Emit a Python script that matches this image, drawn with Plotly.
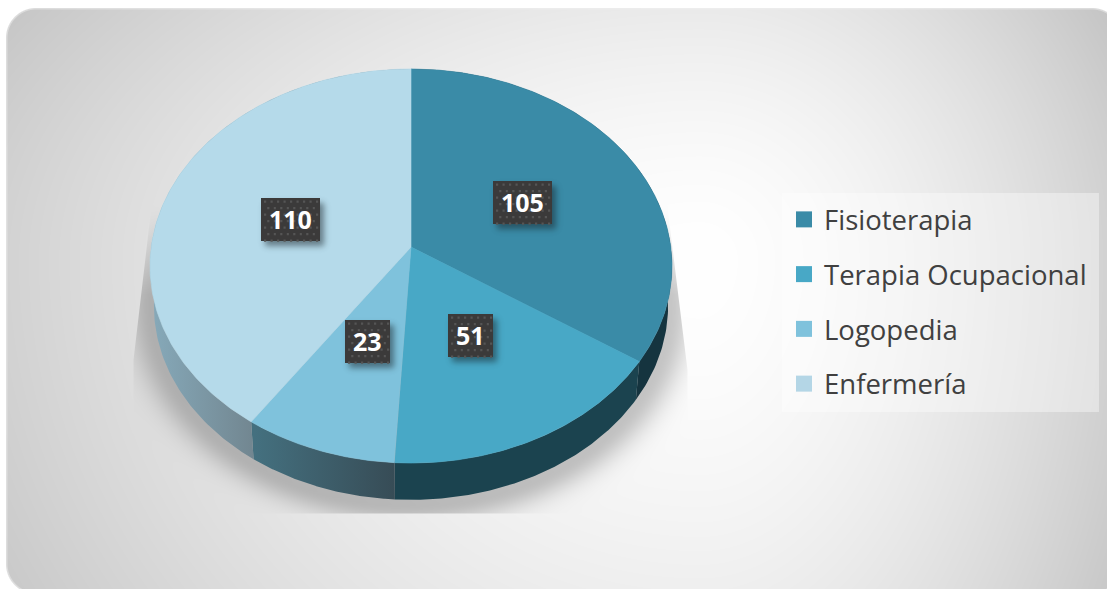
import base64, math, struct, zlib
import numpy as np
import plotly.graph_objects as go

# ---------- data ----------
CATEGORIES = ["Fisioterapia", "Terapia Ocupacional", "Logopedia", "Enfermería"]
VALUES = [105, 51, 23, 110]

# ---------- style ----------
W, H = 1107, 589
FACE_COLORS = ["#3a8ba7", "#48a8c6", "#7fc2dc", "#b5daea"]
LEGEND_COLORS = ["#3a8ba7", "#48a8c6", "#7fc2dc", "#b4d6e6"]
WALL_GRADS = [("#15343f", "#15343f"), ("#1b434f", "#1b434f"),
              ("#44707f", "#374c56"), ("#86a9b9", "#71858f")]
WALL_STOPS = [(400, 668), (395, 640), (255, 395), (152, 257)]
ANGLE_WARP = [0.946, 0.937, 1.09, 1.063]   # Excel's perspective distortion per slice
LABEL_BOXES = [(493, 181, 552, 224), (448, 314, 493, 357), (345, 320, 390, 363), (261, 198, 320, 241)]

# pie projection
CX, CY = 411.0, 247.0
K = 0.0965
A_, B_ = 259.8, 195.2
DEPTH, LOW_SCALE = 40.0, 0.985


def rim(theta, low=False):
    d = 1 + K * np.cos(theta)
    x = A_ * np.sin(theta) / d
    y = -B_ * np.cos(theta) / d
    if low:
        return CX + LOW_SCALE * x, CY + DEPTH + LOW_SCALE * y
    return CX + x, CY + y


def png_uri(rgba):
    h, w, _ = rgba.shape
    raw = b"".join(b"\x00" + rgba[i].tobytes() for i in range(h))

    def chunk(t, d):
        return struct.pack(">I", len(d)) + t + d + struct.pack(">I", zlib.crc32(t + d) & 0xffffffff)
    data = (b"\x89PNG\r\n\x1a\n" + chunk(b"IHDR", struct.pack(">IIBBBBB", w, h, 8, 6, 0, 0, 0))
            + chunk(b"IDAT", zlib.compress(raw, 9)) + chunk(b"IEND", b""))
    return "data:image/png;base64," + base64.b64encode(data).decode()


# ---------- backdrop: card gradient + soft pie shadow ----------
yy, xx = np.mgrid[0:H, 0:W].astype(float) + 0.5
dx = xx - 700.0
dy = yy - 260.0
Lx = np.where(dx < 0, 720.0, 420.0)
Ly = np.where(dy < 0, 420.0, 650.0)
t = np.sqrt((dx / Lx) ** 2 + (dy / Ly) ** 2)
grey = 255 - 47 * t ** 1.6

# soft shadow with hard clipped edges
r = np.sqrt(((xx - 411) / 258) ** 2 + ((yy - 305) / 200) ** 2)
d = (r - 1) * 225
sh = 0.22 * np.exp(-(np.clip(d, 0, None) / 22.0) ** 2)
left = np.clip(150 - (yy - 215) * 17 / 145, 133, None)
right = np.clip(672 + (yy - 240) * 16 / 130, None, 688)
clip = (np.clip(xx - left, 0, 1) * np.clip(right - xx, 0, 1)
        * np.clip(514 - yy, 0, 1) * np.clip((yy - 205) / 90, 0, 1))
grey = grey * (1 - sh * clip)

# rounded card mask
x0, y0, x1, y1, rad = 6.0, 8.0, 1122.0, 594.0, 30.0
qx = np.abs(xx - (x0 + x1) / 2) - ((x1 - x0) / 2 - rad)
qy = np.abs(yy - (y0 + y1) / 2) - ((y1 - y0) / 2 - rad)
sd = np.hypot(np.clip(qx, 0, None), np.clip(qy, 0, None)) + np.minimum(np.maximum(qx, qy), 0) - rad
alpha = np.clip(0.5 - sd, 0, 1)
edge = np.clip(1.5 - np.abs(sd + 0.5), 0, 1)
grey = grey * (1 - 0.5 * edge) + 240 * 0.5 * edge
final = grey * alpha + 255 * (1 - alpha)
bg = np.zeros((H, W, 4), dtype=np.uint8)
bg[..., :3] = np.clip(final, 0, 255)[..., None].astype(np.uint8)
bg[..., 3] = 255

# label-box drop shadows
verf = np.vectorize(math.erf)
xs = np.arange(W) + 0.5
ys = np.arange(H) + 0.5
sa = np.zeros((H, W))
S2 = 3.2 * math.sqrt(2)
for (a, b, c, e) in LABEL_BOXES:
    fx = 0.5 * (verf((xs - a - 4) / S2) - verf((xs - c - 4) / S2))
    fy = 0.5 * (verf((ys - b - 5) / S2) - verf((ys - e - 5) / S2))
    sa = np.maximum(sa, np.outer(fy, fx))
shadow = np.zeros((H, W, 4), dtype=np.uint8)
shadow[..., 0] = 20
shadow[..., 1] = 30
shadow[..., 2] = 35
shadow[..., 3] = (sa * 0.5 * 255).astype(np.uint8)

# ---------- figure ----------
fig = go.Figure()
total = sum(VALUES)
edges = [0.0]
for v, w in zip(VALUES, ANGLE_WARP):
    edges.append(edges[-1] + v / total * 2 * np.pi * w)
edges[-1] = 2 * np.pi

for i in range(len(VALUES)):  # side walls
    th = np.linspace(edges[i], edges[i + 1], 140)
    tx, ty = rim(th)
    lx, ly = rim(th[::-1], low=True)
    c0, c1 = WALL_GRADS[i]
    fig.add_trace(go.Scatter(
        x=np.r_[tx, lx, tx[0]], y=np.r_[ty, ly, ty[0]], mode="lines", fill="toself",
        line=dict(width=0), showlegend=False, hoverinfo="skip",
        fillgradient=dict(type="horizontal", colorscale=[[0, c0], [1, c1]],
                          start=WALL_STOPS[i][0], stop=WALL_STOPS[i][1])))

for i, name in enumerate(CATEGORIES):  # top faces
    th = np.linspace(edges[i], edges[i + 1], 220)
    tx, ty = rim(th)
    fig.add_trace(go.Scatter(
        x=np.r_[CX, tx, CX], y=np.r_[CY, ty, CY], mode="lines", fill="toself",
        fillcolor=FACE_COLORS[i], line=dict(width=0.6, color=FACE_COLORS[i]),
        showlegend=False, name=name, text=f"{name}: {VALUES[i]}", hoverinfo="text"))

for i, name in enumerate(CATEGORIES):  # legend entries
    fig.add_trace(go.Scatter(
        x=[None], y=[None], mode="markers", name=name, legendgroup=name, hoverinfo="skip",
        marker=dict(symbol="square", size=18, color=LEGEND_COLORS[i])))

shapes = [dict(type="rect", xref="x", yref="y", x0=782, x1=1099, y0=193, y1=412,
               fillcolor="rgba(255,255,255,0.38)", line=dict(width=0), layer="below")]
annotations = []
for (a, b, c, e), v in zip(LABEL_BOXES, VALUES):
    dots = ""
    for row, yd in enumerate(np.arange(b + 2.5, e - 1, 6.5)):
        for xd in np.arange(a + 3 + (row % 2) * 3.25, c - 1, 6.5):
            dots += (f"M{xd:.1f},{yd:.1f}L{xd + 2.2:.1f},{yd:.1f}"
                     f"L{xd + 2.2:.1f},{yd + 2.2:.1f}L{xd:.1f},{yd + 2.2:.1f}Z")
    shapes.append(dict(type="rect", xref="x", yref="y", x0=a, x1=c, y0=b, y1=e,
                       fillcolor="#3b3a3a", line=dict(width=0), layer="above"))
    shapes.append(dict(type="path", xref="x", yref="y", path=dots,
                       fillcolor="#555555", line=dict(width=0), layer="above"))
    annotations.append(dict(x=(a + c) / 2, y=(b + e) / 2 - 0.5, xref="x", yref="y", text=f"<b>{v}</b>",
                            showarrow=False, font=dict(family="Open Sans", size=25, color="white")))

fig.update_layout(
    width=W, height=H, margin=dict(l=0, r=0, t=0, b=0),
    paper_bgcolor="white", plot_bgcolor="rgba(0,0,0,0)",
    xaxis=dict(visible=False, range=[0, W], fixedrange=True),
    yaxis=dict(visible=False, range=[H, 0], fixedrange=True),
    images=[dict(source=png_uri(bg), xref="paper", yref="paper", x=0, y=1, sizex=1, sizey=1,
                 sizing="stretch", xanchor="left", yanchor="top", layer="below"),
            dict(source=png_uri(shadow), xref="paper", yref="paper", x=0, y=1, sizex=1, sizey=1,
                 sizing="stretch", xanchor="left", yanchor="top", layer="above")],
    shapes=shapes, annotations=annotations,
    legend=dict(x=784 / W, y=1 - 195 / H, xanchor="left", yanchor="top", bgcolor="rgba(0,0,0,0)",
                font=dict(family="Open Sans", size=27.5, color="#404040"),
                itemsizing="trace", itemwidth=30, tracegroupgap=16, traceorder="grouped",
                itemclick=False, itemdoubleclick=False),
)
fig.write_html("out.html", config=dict(displayModeBar=False),
               post_script="document.body.style.margin='0';document.body.style.overflow='hidden';")
